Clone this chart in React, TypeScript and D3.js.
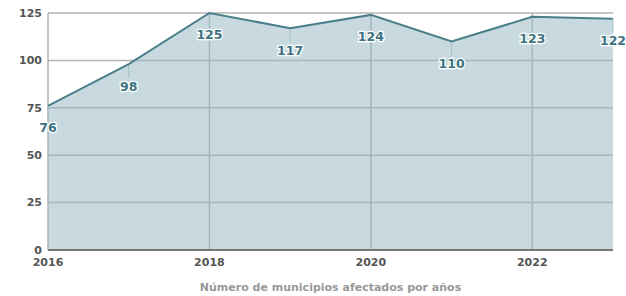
import React, { useEffect, useRef } from 'react';
import * as d3 from 'd3';

// años y número de municipios afectados
const years = [2016, 2017, 2018, 2019, 2020, 2021, 2022, 2023];
const municipios = [76, 98, 125, 117, 124, 110, 123, 122];
const yTicks = [0, 25, 50, 75, 100, 125];
const xTicks = [2016, 2018, 2020, 2022];
const title = 'Número de municipios afectados por años';

const font = 'DejaVu Sans, Verdana, sans-serif';

export default function App() {
  const ref = useRef<SVGSVGElement>(null);

  useEffect(() => {
    const svg = d3.select(ref.current);
    svg.selectAll('*').remove();

    const margin = { top: 13, right: 13, bottom: 46, left: 48 };
    const width = 626 - margin.left - margin.right;
    const height = 296 - margin.top - margin.bottom;

    const data = years.map((y, i) => ({ year: y, value: municipios[i] }));

    const x = d3.scaleLinear().domain([2016, 2023]).range([0, width]);
    const y = d3.scaleLinear().domain([0, 125]).range([height, 0]);

    const g = svg.append('g').attr('transform', `translate(${margin.left},${margin.top})`);

    // horizontal gridlines
    g.selectAll('.hgrid')
      .data(yTicks.filter((t) => t > 0))
      .enter()
      .append('line')
      .attr('x1', 0)
      .attr('x2', width)
      .attr('y1', (d) => y(d))
      .attr('y2', (d) => y(d))
      .attr('stroke', '#b4b4b4')
      .attr('stroke-width', 1.5);

    // vertical gridlines on even years
    g.selectAll('.vgrid')
      .data(xTicks.slice(1))
      .enter()
      .append('line')
      .attr('x1', (d) => x(d))
      .attr('x2', (d) => x(d))
      .attr('y1', 0)
      .attr('y2', height)
      .attr('stroke', '#b4b4b4')
      .attr('stroke-width', 1.5);

    // left axis line
    g.append('line')
      .attr('x1', 0).attr('x2', 0)
      .attr('y1', 0).attr('y2', height)
      .attr('stroke', '#b4b4b4')
      .attr('stroke-width', 1.5);

    const area = d3.area<{ year: number; value: number }>()
      .x((d) => x(d.year))
      .y0(height)
      .y1((d) => y(d.value));

    g.append('path')
      .datum(data)
      .attr('d', area)
      .attr('fill', '#97b9c2')
      .attr('fill-opacity', 0.53);

    // short connectors from point to label
    g.selectAll('.conn')
      .data(data)
      .enter()
      .append('line')
      .attr('x1', (d) => x(d.year))
      .attr('x2', (d) => x(d.year))
      .attr('y1', (d) => y(d.value))
      .attr('y2', (d) => y(d.value) + 14)
      .attr('stroke', '#a6c0c7')
      .attr('stroke-width', 1);

    const line = d3.line<{ year: number; value: number }>()
      .x((d) => x(d.year))
      .y((d) => y(d.value));

    g.append('path')
      .datum(data)
      .attr('d', line)
      .attr('fill', 'none')
      .attr('stroke', '#4a7f8a')
      .attr('stroke-width', 2);

    // bottom axis
    g.append('line')
      .attr('x1', 0).attr('x2', width)
      .attr('y1', height).attr('y2', height)
      .attr('stroke', '#777777')
      .attr('stroke-width', 2);

    // y labels
    g.selectAll('.ylab')
      .data(yTicks)
      .enter()
      .append('text')
      .attr('x', -6)
      .attr('y', (d) => y(d))
      .attr('dy', '0.35em')
      .attr('text-anchor', 'end')
      .attr('font-family', font)
      .attr('font-weight', 'bold')
      .attr('font-size', 11)
      .attr('fill', '#555555')
      .text((d) => d);

    // x labels
    g.selectAll('.xlab')
      .data(xTicks)
      .enter()
      .append('text')
      .attr('x', (d) => x(d))
      .attr('y', height + 16)
      .attr('text-anchor', 'middle')
      .attr('font-family', font)
      .attr('font-weight', 'bold')
      .attr('font-size', 11)
      .attr('fill', '#555555')
      .text((d) => d);

    // value labels with white halo
    g.selectAll('.val')
      .data(data)
      .enter()
      .append('text')
      .attr('x', (d) => x(d.year))
      .attr('y', (d) => y(d.value) + 22)
      .attr('dy', '0.35em')
      .attr('text-anchor', 'middle')
      .attr('font-family', font)
      .attr('font-weight', 'bold')
      .attr('font-size', 12.5)
      .attr('fill', '#3d7381')
      .attr('stroke', '#ffffff')
      .attr('stroke-width', 2.5)
      .attr('paint-order', 'stroke')
      .text((d) => d.value);

    // title
    svg.append('text')
      .attr('x', margin.left + width / 2 + 0)
      .attr('y', 291)
      .attr('text-anchor', 'middle')
      .attr('font-family', font)
      .attr('font-weight', 'bold')
      .attr('font-size', 11)
      .attr('fill', '#999999')
      .text(title);
  }, []);

  return (
    <svg
      ref={ref}
      width={626}
      height={296}
      style={{ position: 'absolute', left: 0, top: 0, background: '#ffffff' }}
    />
  );
}
